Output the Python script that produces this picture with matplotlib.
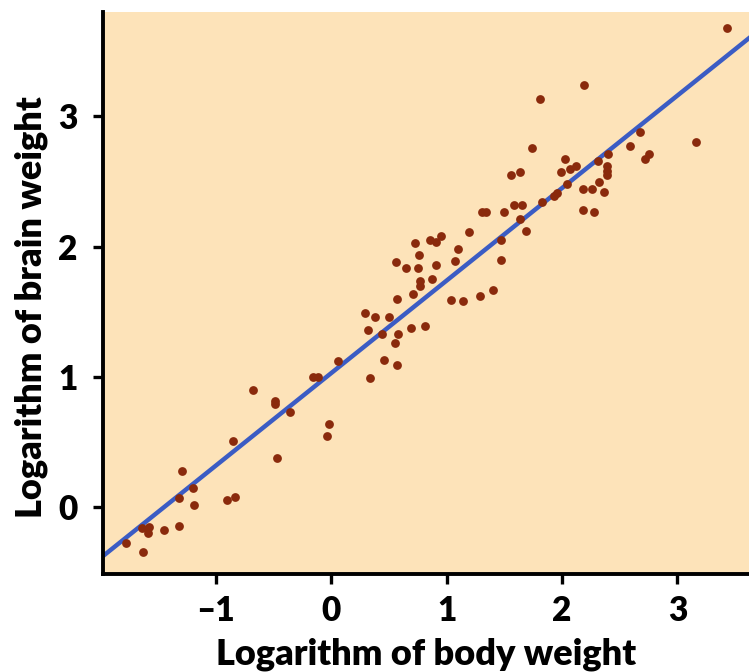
import numpy as np
import matplotlib
matplotlib.use("Agg")
import matplotlib.pyplot as plt

# log10 body weight vs log10 brain weight, one point per species
body = [-1.78, -1.63, -1.64, -1.58, -1.59, -1.45, -1.32, -1.32, -1.29, -1.20,
        -1.19, -0.90, -0.83, -0.85, -0.47, -0.49, -0.49, -0.36, -0.02, -0.04,
        -0.68, -0.16, -0.11, 0.34, 0.06, 0.46, 0.57, 0.55, 0.32, 0.44,
        0.58, 0.69, 0.81, 0.29, 0.38, 0.50, 0.57, 0.71, 0.77, 0.77,
        0.87, 0.91, 0.75, 0.65, 0.56, 0.76, 0.73, 0.86, 0.91, 0.95,
        1.07, 1.10, 1.19, 1.31, 1.34, 1.50, 1.04, 1.14, 1.29, 1.40,
        1.47, 1.47, 2.19, 1.81, 1.74, 2.68, 3.16, 2.59, 2.75, 2.72,
        2.40, 2.39, 2.39, 2.39, 2.31, 2.36, 2.32, 2.26, 2.18, 2.18,
        2.28, 2.03, 1.99, 2.07, 2.12, 2.04, 1.93, 1.96, 1.83, 1.64,
        1.56, 1.58, 1.65, 1.69, 1.64, 3.43]
brain = [-0.27, -0.34, -0.16, -0.15, -0.20, -0.17, -0.14, 0.07, 0.28, 0.15,
         0.02, 0.06, 0.08, 0.51, 0.38, 0.82, 0.79, 0.73, 0.64, 0.55,
         0.90, 1.00, 1.00, 0.99, 1.12, 1.13, 1.09, 1.26, 1.36, 1.33,
         1.33, 1.38, 1.39, 1.49, 1.46, 1.46, 1.60, 1.64, 1.70, 1.74,
         1.75, 1.86, 1.84, 1.84, 1.88, 1.94, 2.03, 2.05, 2.04, 2.08,
         1.89, 1.98, 2.11, 2.27, 2.27, 2.27, 1.59, 1.58, 1.62, 1.67,
         1.90, 2.05, 3.24, 3.13, 2.76, 2.88, 2.80, 2.77, 2.71, 2.67,
         2.71, 2.62, 2.58, 2.55, 2.66, 2.42, 2.50, 2.44, 2.44, 2.28,
         2.27, 2.67, 2.57, 2.60, 2.62, 2.48, 2.39, 2.41, 2.34, 2.57,
         2.55, 2.32, 2.32, 2.12, 2.21, 3.68]

# fitted regression line
intercept = 1.03
slope = 0.71

plt.rcParams['font.family'] = ['Lato', 'DejaVu Sans']
plt.rcParams['font.weight'] = 'bold'

fig = plt.figure(figsize=(7.49, 6.72), dpi=100)
ax = fig.add_axes([0.137, 0.146, 0.863, 0.836])
ax.set_facecolor('#fde3b9')

xlim = (-1.98, 3.62)
xs = np.array(xlim)
ax.plot(xs, intercept + slope * xs, color='#3b5cc4', lw=3.2, zorder=2)
ax.scatter(body, brain, s=40, color='#8a2a0c', zorder=3, linewidths=0)

ax.set_xlim(*xlim)
ax.set_ylim(-0.51, 3.8)
ax.set_xticks([-1, 0, 1, 2, 3])
ax.set_xticklabels(['\u20131', '0', '1', '2', '3'])
ax.set_yticks([0, 1, 2, 3])

for side in ['top', 'right']:
    ax.spines[side].set_visible(False)
for side in ['left', 'bottom']:
    ax.spines[side].set_linewidth(2.8)
ax.tick_params(width=2.4, length=7, labelsize=24)
ax.tick_params(axis='x', pad=8)
ax.tick_params(axis='y', pad=11)
for lab in ax.get_xticklabels() + ax.get_yticklabels():
    lab.set_fontweight('heavy')

ax.set_xlabel('Logarithm of body weight', fontsize=26, fontweight='heavy', labelpad=8)
ax.set_ylabel('Logarithm of brain weight', fontsize=26, fontweight='heavy')
ax.yaxis.set_label_coords(-0.085, 0.475)

fig.savefig('out.png', dpi=100)
